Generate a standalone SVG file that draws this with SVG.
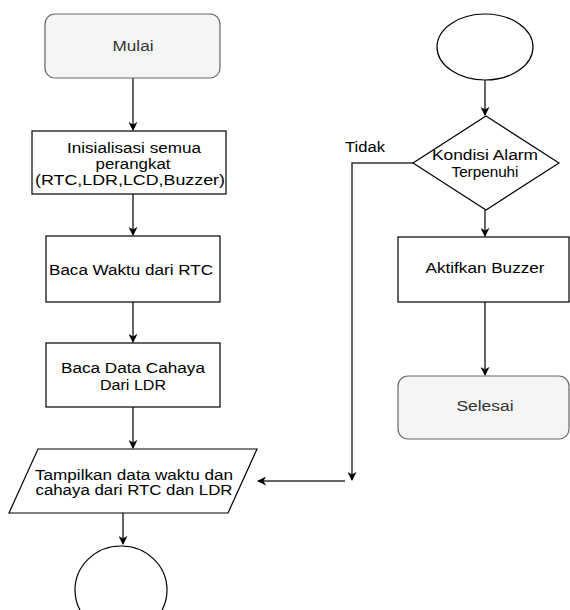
<svg xmlns="http://www.w3.org/2000/svg" width="570" height="610" viewBox="0 0 570 610">
<defs>
<style>
.t{font-family:"Liberation Sans",Arial,sans-serif;font-size:14px;fill:#000;text-anchor:middle}
.g{fill:#333}
.box{fill:#fff;stroke:#000;stroke-width:1.2}
.term{fill:#f5f5f5;stroke:#666;stroke-width:1.2}
.edge{fill:none;stroke:#333;stroke-width:1.5}
</style>
<marker id="ah" viewBox="0 0 10 10" refX="9" refY="5" markerWidth="9" markerHeight="9" markerUnits="userSpaceOnUse" orient="auto">
<path d="M0,0 L10,5 L0,10 L3,5 Z" fill="#000"/>
</marker>
</defs>
<g id="edges">
<line class="edge" x1="133" y1="78" x2="133" y2="130" marker-end="url(#ah)"/>
<line class="edge" x1="133" y1="194" x2="133" y2="235" marker-end="url(#ah)"/>
<line class="edge" x1="133" y1="302" x2="133" y2="342" marker-end="url(#ah)"/>
<line class="edge" x1="133" y1="407" x2="133" y2="448" marker-end="url(#ah)"/>
<line class="edge" x1="123" y1="513" x2="123" y2="544" marker-end="url(#ah)"/>
<line class="edge" x1="485" y1="80" x2="485" y2="115" marker-end="url(#ah)"/>
<line class="edge" x1="485" y1="210" x2="485" y2="236" marker-end="url(#ah)"/>
<line class="edge" x1="485" y1="302" x2="485" y2="375" marker-end="url(#ah)"/>
<polyline class="edge" points="413,163 352,163 352,480" marker-end="url(#ah)"/>
<line class="edge" x1="345" y1="481" x2="258" y2="481" marker-end="url(#ah)"/>
</g>
<g id="mulai">
<rect class="term" x="45" y="14" width="175" height="64" rx="10"/>
<text class="t g" x="133" y="51" textLength="41" lengthAdjust="spacingAndGlyphs">Mulai</text>
</g>
<g id="inisialisasi">
<rect class="box" x="32" y="131" width="194" height="63"/>
<text class="t" x="134" y="153" textLength="134" lengthAdjust="spacingAndGlyphs">Inisialisasi semua</text>
<text class="t" x="133" y="169" textLength="75" lengthAdjust="spacingAndGlyphs">perangkat</text>
<text class="t" x="130" y="185" textLength="190" lengthAdjust="spacingAndGlyphs">(RTC,LDR,LCD,Buzzer)</text>
</g>
<g id="baca-waktu">
<rect class="box" x="46" y="236" width="174" height="66"/>
<text class="t" x="131" y="275" textLength="164" lengthAdjust="spacingAndGlyphs">Baca Waktu dari RTC</text>
</g>
<g id="baca-cahaya">
<rect class="box" x="46" y="343" width="174" height="64"/>
<text class="t" x="133" y="373" textLength="144" lengthAdjust="spacingAndGlyphs">Baca Data Cahaya</text>
<text class="t" x="133" y="390" textLength="66" lengthAdjust="spacingAndGlyphs">Dari LDR</text>
</g>
<g id="tampilkan">
<polygon class="box" points="38,449 257,449 228,513 9,513"/>
<text class="t" x="134" y="480" textLength="198" lengthAdjust="spacingAndGlyphs">Tampilkan data waktu dan</text>
<text class="t" x="134" y="495" textLength="197" lengthAdjust="spacingAndGlyphs">cahaya dari RTC dan LDR</text>
</g>
<g id="end-left">
<ellipse class="box" cx="121" cy="590" rx="46" ry="44"/>
</g>
<g id="start-right">
<ellipse class="box" cx="485" cy="47" rx="48" ry="33"/>
</g>
<g id="kondisi">
<polygon class="box" points="486,116 559,163 486,210 413,163"/>
<text class="t" x="485" y="160" textLength="106" lengthAdjust="spacingAndGlyphs">Kondisi Alarm</text>
<text class="t" x="485" y="177" textLength="67" lengthAdjust="spacingAndGlyphs">Terpenuhi</text>
</g>
<g id="label-tidak">
<text class="t" x="365" y="152" textLength="40" lengthAdjust="spacingAndGlyphs">Tidak</text>
</g>
<g id="aktifkan">
<rect class="box" x="398" y="237" width="171" height="65"/>
<text class="t" x="485" y="273" textLength="119" lengthAdjust="spacingAndGlyphs">Aktifkan Buzzer</text>
</g>
<g id="selesai">
<rect class="term" x="398" y="376" width="171" height="63" rx="10"/>
<text class="t g" x="485" y="411" textLength="57" lengthAdjust="spacingAndGlyphs">Selesai</text>
</g>
</svg>
